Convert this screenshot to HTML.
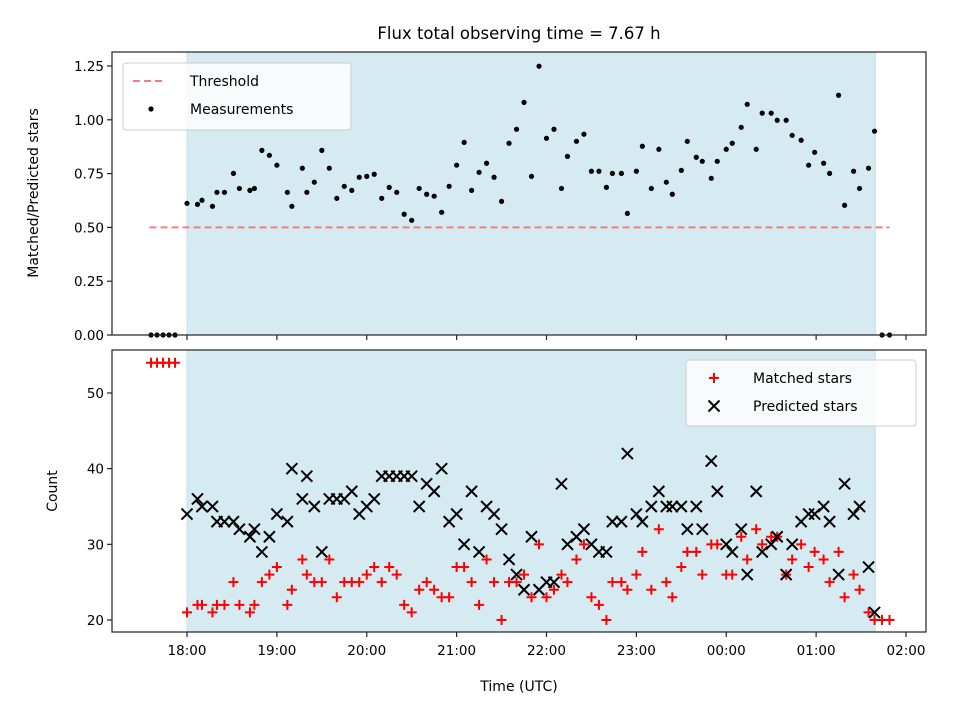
<!DOCTYPE html>
<html><head><meta charset="utf-8"><style>
body{margin:0;background:#fff;}
svg{display:block;font-family:"DejaVu Sans","Liberation Sans",sans-serif;}
</style></head><body>
<svg id="chart" width="960" height="720" viewBox="0 0 960 720">
<rect width="960" height="720" fill="#fff"/>
<text x="519" y="39" font-size="16.5" text-anchor="middle">Flux total observing time = 7.67 h</text>
<g id="topPanel"></g><g id="botPanel"></g>
</svg>
<script>
// minutes after 18:00 UTC
const obsTimes=[0,7,10,17,20,25,31,35,42,45,50,55,60,67,70,77,80,85,90,95,100,105,110,115,120,125,130,135,140,145,150,155,160,165,170,175,180,185,190,195,200,205,210,215,220,225,230,235,240,245,250,254,260,265,270,275,280,284,290,294,300,304,310,315,320,324,330,334,340,344,350,354,360,364,370,374,380,384,390,394,400,404,410,415,419,425,429,435,439,445,449,455,459];
const ratioValues=[0.612,0.607,0.626,0.598,0.663,0.663,0.751,0.681,0.672,0.681,0.858,0.835,0.789,0.663,0.598,0.775,0.663,0.71,0.858,0.775,0.635,0.691,0.672,0.733,0.737,0.747,0.635,0.686,0.663,0.561,0.533,0.681,0.654,0.645,0.57,0.691,0.789,0.895,0.672,0.756,0.798,0.733,0.621,0.891,0.956,1.081,0.737,1.249,0.914,0.956,0.681,0.83,0.9,0.933,0.761,0.761,0.686,0.751,0.751,0.565,0.761,0.877,0.681,0.863,0.71,0.654,0.765,0.9,0.826,0.807,0.728,0.807,0.863,0.891,0.965,1.072,0.863,1.031,1.031,0.998,0.998,0.928,0.905,0.789,0.849,0.798,0.751,1.114,0.603,0.761,0.681,0.775,0.947];
const matched=[21,22,22,21,22,22,25,22,21,22,25,26,27,22,24,28,26,25,25,28,23,25,25,25,26,27,25,27,26,22,21,24,25,24,23,23,27,27,25,22,28,25,20,25,25,26,23,30,23,24,26,25,28,30,23,22,20,25,25,24,26,29,24,32,25,23,27,29,29,26,30,30,26,26,31,28,32,30,31,31,26,28,30,27,29,28,25,29,23,26,24,21,20];
const predicted=[34,36,35,35,33,33,33,32,31,32,29,31,34,33,40,36,39,35,29,36,36,36,37,34,35,36,39,39,39,39,39,35,38,37,40,33,34,30,37,29,35,34,32,28,26,24,31,24,25,25,38,30,31,32,30,29,29,33,33,42,34,33,35,37,35,35,35,32,35,32,41,37,30,29,32,26,37,29,30,31,26,30,33,34,34,35,33,26,38,34,35,27,21];
const preTimes=[-24,-20,-16,-12,-8];
const preRatio=[0,0,0,0,0];
const preMatched=[54,54,54,54,54];
const postTimes=[464,469];
const postRatio=[0,0];
const postMatched=[20,20];
const xTickLabels=["18:00","19:00","20:00","21:00","22:00","23:00","00:00","01:00","02:00"];
const yTopTicks=[0,0.25,0.5,0.75,1.0,1.25];
const yBotTicks=[20,30,40,50];
const threshold=0.5;

const NS="http://www.w3.org/2000/svg";
function mk(p,t,a){const e=document.createElementNS(NS,t);for(const k in a)e.setAttribute(k,a[k]);p.appendChild(e);return e;}
const L=112,R=926;
const xs=m=>187+m*(89.875/60);
const yT=v=>335-v*215.2;
const yB=v=>620-(v-20)*7.567;
const topG=document.getElementById('topPanel'),botG=document.getElementById('botPanel');

function frame(g,y0,y1,nm){
  const s=mk(g,'rect',{x:xs(0),y:y0,width:xs(459.5)-xs(0),height:y1-y0,fill:'#d5eaf1',stroke:'#c2e0ea','stroke-width':1});
  
  
}
frame(topG,52,335,'top');frame(botG,350,632,'bottom');

const th=mk(topG,'line',{x1:xs(-25),x2:xs(469),y1:yT(threshold),y2:yT(threshold),stroke:'#f08080','stroke-width':2,'stroke-dasharray':'7,4'});



function dot(t,v){const c=mk(topG,'circle',{cx:xs(t),cy:yT(v),r:2.6,fill:'#000'});

}
preTimes.forEach((t,i)=>dot(t,preRatio[i]));
obsTimes.forEach((t,i)=>dot(t,ratioValues[i]));
postTimes.forEach((t,i)=>dot(t,postRatio[i]));

function plus(t,v){const cx=xs(t),cy=yB(v);const p=mk(botG,'path',{d:`M${cx-5},${cy}H${cx+5}M${cx},${cy-5}V${cy+5}`,stroke:'#f00','stroke-width':2});

}
function cross(t,v){const cx=xs(t),cy=yB(v);const p=mk(botG,'path',{d:`M${cx-5.5},${cy-5.5}L${cx+5.5},${cy+5.5}M${cx-5.5},${cy+5.5}L${cx+5.5},${cy-5.5}`,stroke:'#000','stroke-width':2});

}
preTimes.forEach((t,i)=>plus(t,preMatched[i]));
obsTimes.forEach((t,i)=>plus(t,matched[i]));
postTimes.forEach((t,i)=>plus(t,postMatched[i]));
obsTimes.forEach((t,i)=>cross(t,predicted[i]));

[[topG,52,335],[botG,350,632]].forEach(([g,y0,y1],k)=>{
  const f=mk(g,'rect',{x:L,y:y0,width:R-L,height:y1-y0,fill:'none',stroke:'#222','stroke-width':1.2});
  
  
  xTickLabels.forEach((lab,i)=>{const xx=xs(i*60);
    mk(g,'line',{x1:xx,x2:xx,y1:y1,y2:y1+5,stroke:'#222','stroke-width':1.2});
    if(k){const t=mk(g,'text',{x:xx,y:y1+23,'font-size':13.5,'text-anchor':'middle'});t.textContent=lab;
      
      }
  });
});
yTopTicks.forEach(v=>{const yy=yT(v);mk(topG,'line',{x1:L-5,x2:L,y1:yy,y2:yy,stroke:'#222','stroke-width':1.2});
  const t=mk(topG,'text',{x:L-8,y:yy+5,'font-size':13.5,'text-anchor':'end'});t.textContent=v.toFixed(2);
  
  });
yBotTicks.forEach(v=>{const yy=yB(v);mk(botG,'line',{x1:L-5,x2:L,y1:yy,y2:yy,stroke:'#222','stroke-width':1.2});
  const t=mk(botG,'text',{x:L-8,y:yy+5,'font-size':13.5,'text-anchor':'end'});t.textContent=v;
  
  });

function lbl(g,txt,xx,yy,rot,nm){const t=mk(g,'text',{x:xx,y:yy,'font-size':14,'text-anchor':'middle',transform:rot?`rotate(-90 ${xx} ${yy})`:''});t.textContent=txt;
  
  }
lbl(topG,'Matched/Predicted stars',38,193,true,'top-y-axis-title');
lbl(botG,'Count',57,491,true,'bottom-y-axis-title');
lbl(botG,'Time (UTC)',519,691,false,'x-axis-title');

function legend(g,x0,y0,w,h,items,nm){
  const lg=mk(g,'g',{});
  mk(lg,'rect',{x:x0,y:y0,width:w,height:h,rx:3,fill:'#fff','fill-opacity':0.8,stroke:'#ccc'});
  items.forEach((it,i)=>{const cy=y0+18+i*28;
    const e=mk(lg,'g',{});
    it.draw(e,x0+28,cy);
    const t=mk(e,'text',{x:x0+67,y:cy+5,'font-size':14});t.textContent=it.label;});
}
legend(topG,123,63,228,67,[
  {label:'Threshold',draw:(e,cx,cy)=>mk(e,'line',{x1:cx-18,x2:cx+14,y1:cy,y2:cy,stroke:'#f08080','stroke-width':2,'stroke-dasharray':'7,4'})},
  {label:'Measurements',draw:(e,cx,cy)=>mk(e,'circle',{cx:cx,cy:cy,r:2.6,fill:'#000'})}
],'top-legend');
legend(botG,686,360,230,66,[
  {label:'Matched stars',draw:(e,cx,cy)=>mk(e,'path',{d:`M${cx-5},${cy}H${cx+5}M${cx},${cy-5}V${cy+5}`,stroke:'#f00','stroke-width':2})},
  {label:'Predicted stars',draw:(e,cx,cy)=>mk(e,'path',{d:`M${cx-5.5},${cy-5.5}L${cx+5.5},${cy+5.5}M${cx-5.5},${cy+5.5}L${cx+5.5},${cy-5.5}`,stroke:'#000','stroke-width':2})}
],'bottom-legend');
</script>
</body></html>
